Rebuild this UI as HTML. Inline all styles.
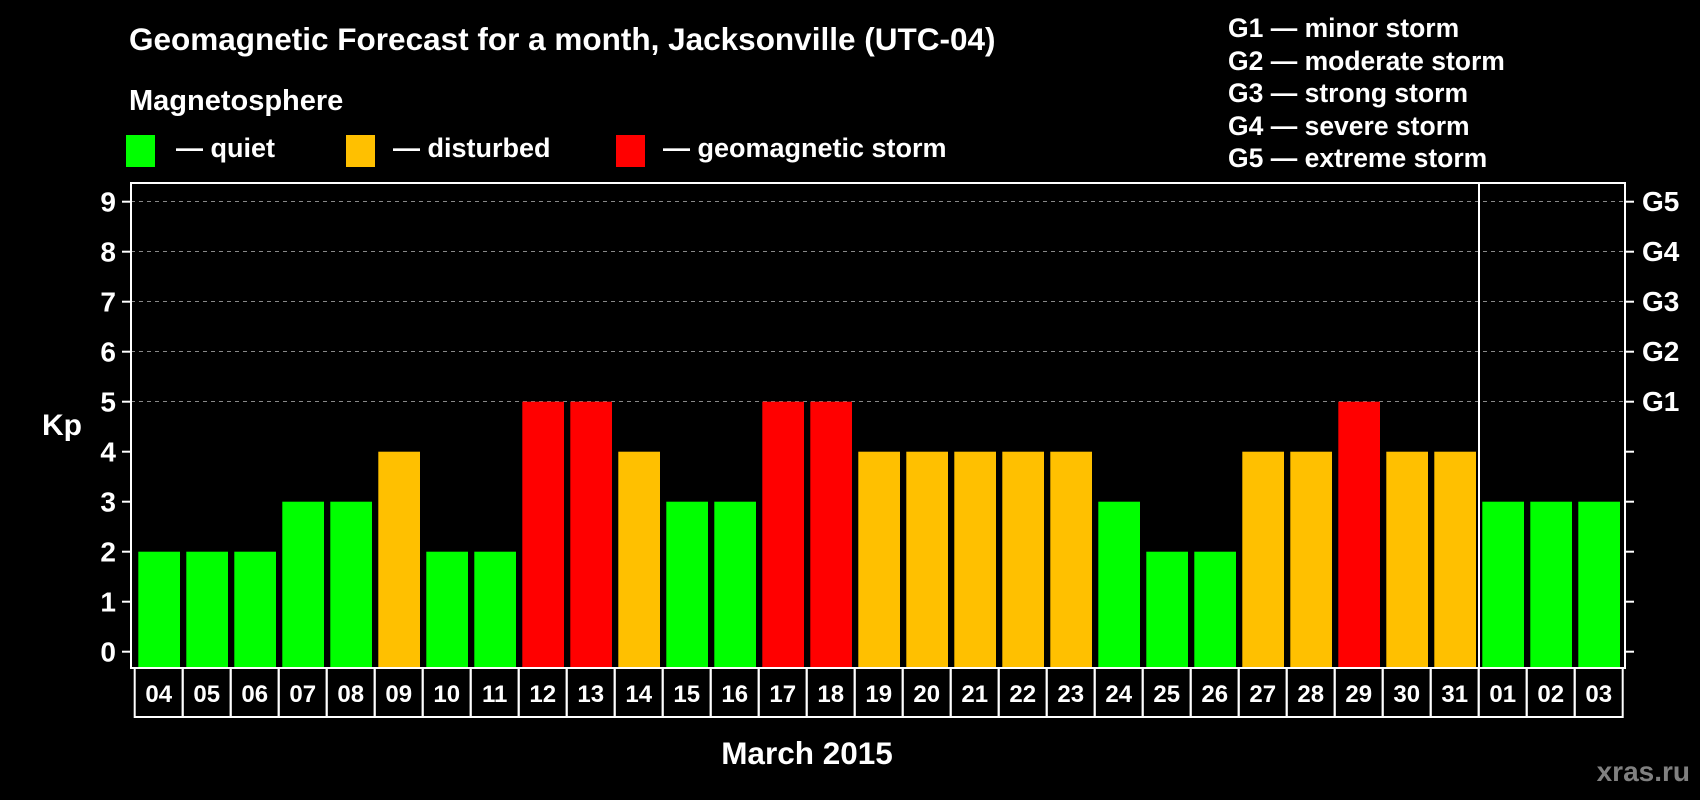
<!DOCTYPE html>
<html><head><meta charset="utf-8"><style>
html,body{margin:0;padding:0;background:#000;}
svg{display:block;}
text{font-family:"Liberation Sans",Arial,sans-serif;font-weight:bold;fill:#fff;}
</style></head><body>
<svg width="1700" height="800" viewBox="0 0 1700 800" xmlns="http://www.w3.org/2000/svg">
<rect width="1700" height="800" fill="#000"/>
<text x="129" y="50" font-size="31.5">Geomagnetic Forecast for a month, Jacksonville (UTC-04)</text>
<text x="129" y="110" font-size="29">Magnetosphere</text>
<rect x="126" y="135" width="29" height="32" fill="#00ff00"/>
<text x="176" y="157" font-size="27">— quiet</text>
<rect x="346" y="135" width="29" height="32" fill="#ffc000"/>
<text x="393" y="157" font-size="27">— disturbed</text>
<rect x="616" y="135" width="29" height="32" fill="#ff0000"/>
<text x="663" y="157" font-size="27">— geomagnetic storm</text>
<g font-size="26.5">
<text x="1228" y="37">G1 — minor storm</text>
<text x="1228" y="70">G2 — moderate storm</text>
<text x="1228" y="102">G3 — strong storm</text>
<text x="1228" y="135">G4 — severe storm</text>
<text x="1228" y="167">G5 — extreme storm</text>
</g>
<g stroke="#888" stroke-width="1" stroke-dasharray="4,4">
<line x1="131" x2="1625" y1="201.5" y2="201.5"/>
<line x1="131" x2="1625" y1="251.5" y2="251.5"/>
<line x1="131" x2="1625" y1="301.5" y2="301.5"/>
<line x1="131" x2="1625" y1="351.5" y2="351.5"/>
<line x1="131" x2="1625" y1="401.5" y2="401.5"/>
</g>
<g id="bars"></g>
<rect x="131" y="183" width="1494" height="485" fill="none" stroke="#fff" stroke-width="2"/>
<line x1="1479" x2="1479" y1="183" y2="668" stroke="#fff" stroke-width="2"/>
<g id="ticks" stroke="#fff" stroke-width="2"></g>
<g id="ylab" font-size="28" text-anchor="end"></g>
<g font-size="28">
<text x="1642" y="211">G5</text>
<text x="1642" y="261">G4</text>
<text x="1642" y="311">G3</text>
<text x="1642" y="361">G2</text>
<text x="1642" y="411">G1</text>
</g>
<text x="42" y="435" font-size="30">Kp</text>
<g id="dates" font-size="24" text-anchor="middle"></g>
<text x="807" y="764" font-size="31.5" text-anchor="middle">March 2015</text>
<text x="1690" y="781" font-size="28" text-anchor="end" style="fill:#808080">xras.ru</text>
</svg>
<script>
(function(){
var NS="http://www.w3.org/2000/svg";
function el(t,a,p,txt){var e=document.createElementNS(NS,t);for(var k in a)e.setAttribute(k,a[k]);if(txt!==undefined)e.textContent=txt;p.appendChild(e);return e;}
var v=[2,2,2,3,3,4,2,2,5,5,4,3,3,5,5,4,4,4,4,4,3,2,2,4,4,5,4,4,3,3,3];
var d=["04","05","06","07","08","09","10","11","12","13","14","15","16","17","18","19","20","21","22","23","24","25","26","27","28","29","30","31","01","02","03"];
var bars=document.getElementById("bars"),dates=document.getElementById("dates"),ticks=document.getElementById("ticks"),yl=document.getElementById("ylab");
for(var i=0;i<31;i++){
 var c=v[i]>=5?"#ff0000":(v[i]==4?"#ffc000":"#00ff00");
 var x=138.3+48*i, ty=651.7-50*v[i];
 el("rect",{x:x,y:ty,width:41.7,height:668-ty,fill:c},bars);
 var bx=134.7+48*i;
 el("rect",{x:bx,y:668,width:48,height:49,fill:"none",stroke:"#fff","stroke-width":2},dates);
 el("text",{x:bx+24,y:702},dates,d[i]);
}
for(var k=0;k<=9;k++){
 var y=651.7-50*k;
 el("line",{x1:122,x2:131,y1:y,y2:y},ticks);
 el("line",{x1:1625,x2:1634,y1:y,y2:y},ticks);
 el("text",{x:116,y:y+10},yl,String(k));
}
})();
</script>
</body></html>
